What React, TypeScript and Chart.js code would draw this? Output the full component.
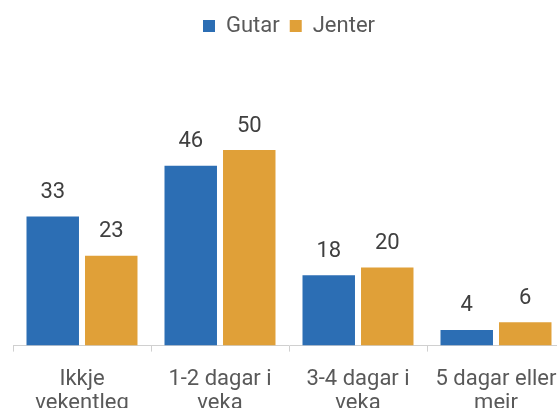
import React, { useEffect, useRef } from "react";
import { Chart, registerables } from "chart.js";

Chart.register(...registerables);

const categories: string[][] = [
  ["Ikkje", "vekentleg"],
  ["1-2 dagar i", "veka"],
  ["3-4 dagar i", "veka"],
  ["5 dagar eller", "meir"],
];
const gutar: number[] = [33, 46, 18, 4];
const jenter: number[] = [23, 50, 20, 6];
const seriesNames: string[] = ["Gutar", "Jenter"];

const BLUE = "#2C6EB4";
const ORANGE = "#E0A038";
const FONT = "Roboto, 'Noto Sans', sans-serif";

const dataLabels = {
  id: "dataLabels",
  afterDatasetsDraw(chart: any) {
    const ctx = chart.ctx;
    ctx.save();
    ctx.font = `22px ${FONT}`;
    ctx.fillStyle = "#404040";
    ctx.textAlign = "center";
    ctx.textBaseline = "middle";
    chart.data.datasets.forEach((ds: any, i: number) => {
      const meta = chart.getDatasetMeta(i);
      meta.data.forEach((bar: any, j: number) => {
        ctx.fillText(String(ds.data[j]), bar.x, bar.y - 24);
      });
    });
    ctx.restore();
  },
};

const legendSpace = {
  id: "legendSpace",
  beforeInit(chart: any) {
    const orig = chart.legend.fit;
    chart.legend.fit = function () {
      orig.bind(chart.legend)();
      this.height += 64;
    };
  },
};

export default function App() {
  const ref = useRef<HTMLCanvasElement>(null);
  useEffect(() => {
    if (!ref.current) return;
    const chart = new Chart(ref.current, {
      type: "bar",
      data: {
        labels: categories,
        datasets: [
          { label: seriesNames[0], data: gutar, backgroundColor: BLUE },
          { label: seriesNames[1], data: jenter, backgroundColor: ORANGE },
        ],
      },
      options: {
        responsive: false,
        animation: false,
        devicePixelRatio: 1,
        datasets: { bar: { categoryPercentage: 0.848, barPercentage: 0.897 } },
        layout: { padding: { top: 5, left: 13, right: 15, bottom: 0 } },
        plugins: {
          tooltip: { enabled: false },
          legend: {
            position: "top",
            align: "center",
            labels: {
              boxWidth: 12,
              boxHeight: 12,
              padding: 10,
              color: "#595959",
              font: { family: FONT, size: 22 },
            },
          },
        },
        scales: {
          x: {
            grid: {
              offset: true,
              drawOnChartArea: false,
              drawTicks: true,
              tickLength: 6,
              color: "#D0D0D0",
            },
            border: { display: true, color: "#D0D0D0", width: 1 },
            ticks: {
              color: "#595959",
              font: { family: FONT, size: 22, lineHeight: 1.1 },
              padding: 16,
              maxRotation: 0,
              autoSkip: false,
            },
          },
          y: { display: false, min: 0, max: 60 },
        },
      },
      plugins: [dataLabels, legendSpace],
    });
    return () => chart.destroy();
  }, []);
  return (
    <div
      style={{
        position: "fixed",
        left: 0,
        top: 0,
        width: 557,
        height: 408,
        overflow: "hidden",
        background: "#fff",
      }}
    >
      <canvas ref={ref} width={580} height={432} style={{ display: "block" }} />
    </div>
  );
}
